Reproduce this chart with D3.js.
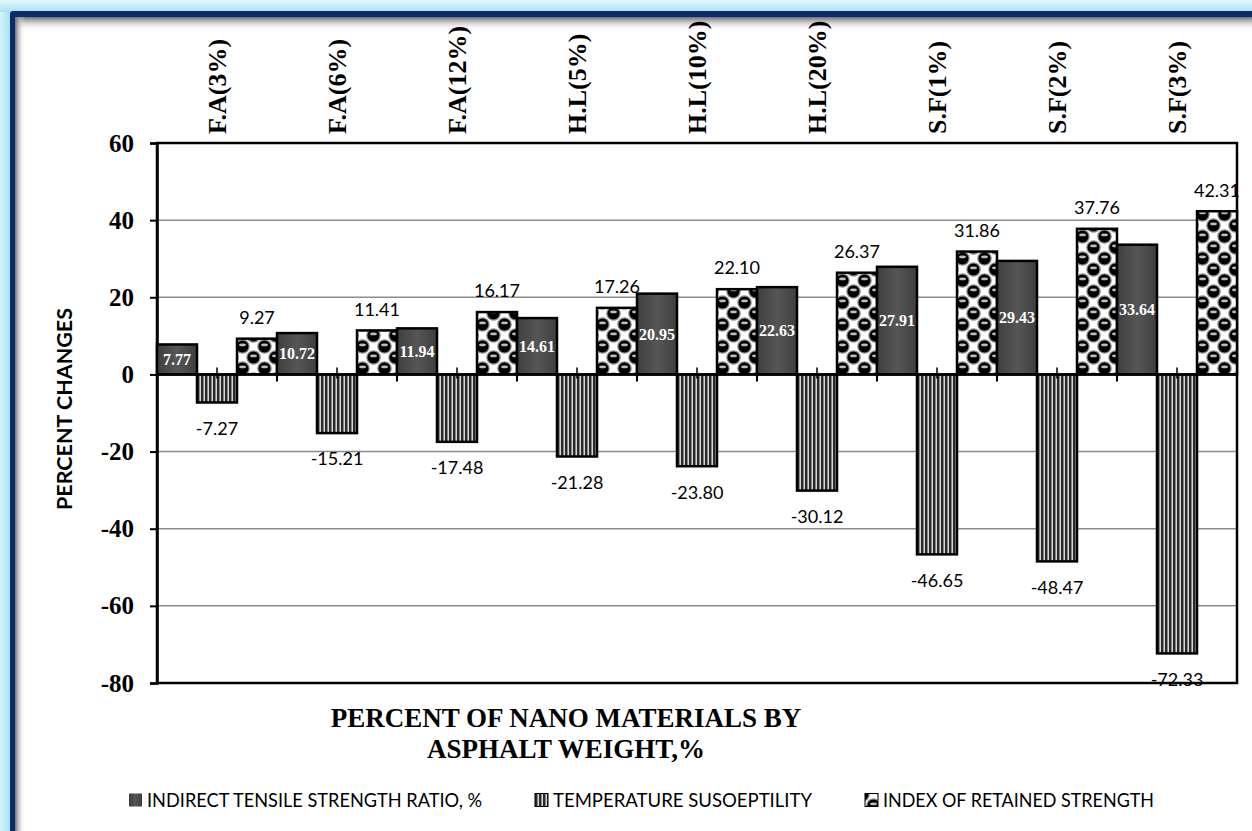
<!DOCTYPE html>
<html><head><meta charset="utf-8">
<script src="https://cdn.jsdelivr.net/npm/d3@7"></script>
<style>html,body{margin:0;padding:0;background:#fff;}svg{display:block;}</style>
</head><body>
<svg id="c" width="1252" height="831"></svg>
<script>
const categories = ["F.A(3%)","F.A(6%)","F.A(12%)","H.L(5%)","H.L(10%)","H.L(20%)","S.F(1%)","S.F(2%)","S.F(3%)"];
const seriesNames = ["INDIRECT TENSILE STRENGTH RATIO, %","TEMPERATURE SUSOEPTILITY","INDEX OF RETAINED STRENGTH"];
const itsr = [7.77,10.72,11.94,14.61,20.95,22.63,27.91,29.43,33.64];
const tempSus = [-7.27,-15.21,-17.48,-21.28,-23.80,-30.12,-46.65,-48.47,-72.33];
const irs = [9.27,11.41,16.17,17.26,22.10,26.37,31.86,37.76,42.31];
const yTicks = [-80,-60,-40,-20,0,20,40,60];
const yTitle = "PERCENT CHANGES";
const xTitle = ["PERCENT OF NANO MATERIALS BY","ASPHALT WEIGHT,%"];

const svg = d3.select("#c");
const W = 1252, H = 831;
const defs = svg.append("defs");

// frame gradients
const gTop = defs.append("linearGradient").attr("id","glowTop").attr("x1",0).attr("y1",0).attr("x2",0).attr("y2",1);
gTop.append("stop").attr("offset","0%").attr("stop-color","#e4f7fd");
gTop.append("stop").attr("offset","100%").attr("stop-color","#a6e2f4");
const gLeft = defs.append("linearGradient").attr("id","glowLeft").attr("x1",0).attr("y1",0).attr("x2",1).attr("y2",0);
gLeft.append("stop").attr("offset","0%").attr("stop-color","#d8f3fb");
gLeft.append("stop").attr("offset","100%").attr("stop-color","#a6e2f4");
const shTop = defs.append("linearGradient").attr("id","shTop").attr("x1",0).attr("y1",0).attr("x2",0).attr("y2",1);
shTop.append("stop").attr("offset","0%").attr("stop-color","#6f6f6f");
shTop.append("stop").attr("offset","100%").attr("stop-color","#ffffff").attr("stop-opacity",0);
const shLeft = defs.append("linearGradient").attr("id","shLeft").attr("x1",0).attr("y1",0).attr("x2",1).attr("y2",0);
shLeft.append("stop").attr("offset","0%").attr("stop-color","#6f6f6f");
shLeft.append("stop").attr("offset","100%").attr("stop-color","#ffffff").attr("stop-opacity",0);

svg.append("rect").attr("x",0).attr("y",0).attr("width",W).attr("height",H).attr("fill","#a6e2f4");
svg.append("rect").attr("x",0).attr("y",0).attr("width",W).attr("height",12).attr("fill","url(#glowTop)");
svg.append("rect").attr("x",0).attr("y",12).attr("width",10).attr("height",H).attr("fill","url(#glowLeft)");
svg.append("rect").attr("x",10).attr("y",11).attr("width",W).attr("height",H).attr("rx",3).attr("fill","#0b2a66");
svg.append("rect").attr("x",15).attr("y",17).attr("width",W).attr("height",H).attr("fill","#ffffff");
svg.append("rect").attr("x",15).attr("y",17).attr("width",W).attr("height",14).attr("fill","url(#shTop)");
svg.append("rect").attr("x",15).attr("y",17).attr("width",10).attr("height",H).attr("fill","url(#shLeft)");

// patterns
const solidGrad = defs.append("linearGradient").attr("id","solidG").attr("x1",0).attr("y1",0).attr("x2",1).attr("y2",0);
solidGrad.append("stop").attr("offset","0%").attr("stop-color","#3e3e3e");
solidGrad.append("stop").attr("offset","50%").attr("stop-color","#565656");
solidGrad.append("stop").attr("offset","100%").attr("stop-color","#3e3e3e");

const stripe = defs.append("pattern").attr("id","stripe").attr("patternUnits","userSpaceOnUse").attr("width",4).attr("height",10);
stripe.append("rect").attr("width",4).attr("height",10).attr("fill","#d8d8d8");
stripe.append("rect").attr("x",0).attr("width",2).attr("height",10).attr("fill","#2a2a2a");
stripe.append("rect").attr("x",2).attr("width",1).attr("height",10).attr("fill","#888");

const P = 22, cs = 11;
const ball = defs.append("pattern").attr("id","balls").attr("patternUnits","userSpaceOnUse").attr("width",P).attr("height",P).attr("x",3).attr("y",0);
ball.append("rect").attr("width",P).attr("height",P).attr("fill","#ffffff");
// dark balls on the diagonal cells, with wrap-around copies so rings cross cell edges
const centers = [];
[[cs/2,cs/2],[cs*1.5,cs*1.5]].forEach(([cx,cy])=>{
  [-P,0,P].forEach(dx=>[-P,0,P].forEach(dy=>centers.push([cx+dx,cy+dy])));
});
centers.forEach(([cx,cy])=>{
  ball.append("circle").attr("cx",cx).attr("cy",cy).attr("r",6.6).attr("fill","#000").attr("stroke","#8a8a8a").attr("stroke-width",1.3);
});
centers.forEach(([cx,cy])=>{
  ball.append("ellipse").attr("cx",cx).attr("cy",cy-1.6).attr("rx",3.4).attr("ry",1.3).attr("fill","#bdbdbd");
});

const fills = ["url(#solidG)","url(#stripe)","url(#balls)"];

// scales
const plot = {l:157, r:1237, t:143, b:683};
const y = d3.scaleLinear().domain([-80,60]).range([plot.b, plot.t]);
const x0 = d3.scaleBand().domain(categories).range([plot.l, plot.r]).padding(0);
const x1 = d3.scaleBand().domain(seriesNames).range([0, x0.bandwidth()]).padding(0);

// gridlines
svg.append("g").selectAll("line").data(yTicks.filter(t=>t!==0 && t!==60 && t!==-80)).join("line")
  .attr("x1",plot.l).attr("x2",plot.r).attr("y1",d=>y(d)).attr("y2",d=>y(d))
  .attr("stroke","#8c8c8c").attr("stroke-width",1.5);

// plot border
svg.append("rect").attr("x",plot.l).attr("y",plot.t).attr("width",plot.r-plot.l).attr("height",plot.b-plot.t)
  .attr("fill","none").attr("stroke","#000").attr("stroke-width",2.5);

// y axis
const yAxis = d3.axisLeft(y).tickValues(yTicks).tickSize(7).tickPadding(16).tickFormat(d=>String(d));
const ga = svg.append("g").attr("transform",`translate(${plot.l},0)`).call(yAxis);
ga.select(".domain").attr("stroke","#000").attr("stroke-width",2.5);
ga.selectAll(".tick line").attr("stroke","#000").attr("stroke-width",2);
ga.selectAll(".tick text").attr("font-family","'Liberation Serif', serif").attr("font-weight","bold")
  .attr("font-size",25).attr("fill","#000");

// bars
const data = categories.map((c,i)=>({c, vals:[itsr[i], tempSus[i], irs[i]]}));
const groups = svg.append("g").selectAll("g").data(data).join("g")
  .attr("transform",d=>`translate(${x0(d.c)},0)`);
groups.selectAll("rect").data(d=>d.vals.map((v,k)=>({v,k}))).join("rect")
  .attr("x",d=>x1(seriesNames[d.k]))
  .attr("width",x1.bandwidth())
  .attr("y",d=>Math.min(y(d.v),y(0)))
  .attr("height",d=>Math.abs(y(d.v)-y(0)))
  .attr("fill",d=>fills[d.k])
  .attr("stroke","#000").attr("stroke-width",2.5);

// zero line
svg.append("line").attr("x1",plot.l).attr("x2",plot.r).attr("y1",y(0)).attr("y2",y(0)).attr("stroke","#000").attr("stroke-width",2.5);

// category ticks
const bounds = categories.map(c=>x0(c));
svg.append("g").selectAll("line").data(bounds.slice(1)).join("line")
  .attr("x1",d=>d).attr("x2",d=>d).attr("y1",y(0)).attr("y2",y(0)+7).attr("stroke","#000").attr("stroke-width",2);
svg.append("g").selectAll("line").data(categories).join("line")
  .attr("x1",d=>x0(d)+x0.bandwidth()/2).attr("x2",d=>x0(d)+x0.bandwidth()/2)
  .attr("y1",y(0)-7).attr("y2",y(0)+4).attr("stroke","#000").attr("stroke-width",1.5);

// labels
const sans = "Lato, 'Open Sans', sans-serif";
groups.append("text")
  .attr("x",d=>x1(seriesNames[0])+x1.bandwidth()/2)
  .attr("y",d=>(y(d.vals[0])+y(0))/2)
  .attr("dy","0.35em").attr("text-anchor","middle")
  .attr("font-family","'Liberation Serif', serif").attr("font-weight","bold").attr("font-size",16)
  .attr("fill","#fff").text(d=>d.vals[0].toFixed(2));
groups.append("text")
  .attr("x",d=>x1(seriesNames[1])+x1.bandwidth()/2)
  .attr("y",d=>y(d.vals[1])+26)
  .attr("dy","0.35em").attr("text-anchor","middle")
  .attr("font-family",sans).attr("font-size",18).attr("fill","#000")
  .text(d=>d.vals[1].toFixed(2));
groups.append("text")
  .attr("x",d=>x1(seriesNames[2])+x1.bandwidth()/2)
  .attr("y",d=>y(d.vals[2])-21)
  .attr("dy","0.35em").attr("text-anchor","middle")
  .attr("font-family",sans).attr("font-size",18).attr("fill","#000")
  .text(d=>d.vals[2].toFixed(2));

// top category labels
svg.append("g").selectAll("text").data(categories).join("text")
  .attr("transform",d=>`translate(${x0(d)+x0.bandwidth()/2},134) rotate(-90)`)
  .attr("dy","0.35em").attr("text-anchor","start")
  .attr("font-family","'Liberation Serif', serif").attr("font-weight","bold").attr("font-size",26)
  .attr("fill","#000").text(d=>d);

// y title
svg.append("text").attr("transform","translate(65,409) rotate(-90)")
  .attr("dy","0.35em").attr("text-anchor","middle")
  .attr("font-family",sans).attr("font-weight","bold").attr("font-size",20)
  .attr("textLength",202).attr("lengthAdjust","spacingAndGlyphs")
  .attr("fill","#000").text(yTitle);

// x title
svg.append("g").selectAll("text").data(xTitle).join("text")
  .attr("x",566).attr("y",(d,i)=>718+i*31).attr("dy","0.35em").attr("text-anchor","middle")
  .attr("font-family","'Liberation Serif', serif").attr("font-weight","bold").attr("font-size",27)
  .attr("fill","#000").text(d=>d);

// legend
const legX = [129, 535, 865];
const legW = [335, 259, 271];
const leg = svg.append("g").selectAll("g").data(seriesNames).join("g")
  .attr("transform",(d,i)=>`translate(${legX[i]},800)`);
leg.append("rect").attr("x",0).attr("y",-6.5).attr("width",13).attr("height",13)
  .attr("fill",(d,i)=>fills[i]).attr("stroke",(d,i)=>i===0?"none":"#000").attr("stroke-width",1);
leg.append("text").attr("x",18).attr("dy","0.36em")
  .attr("font-family",sans).attr("font-size",19).attr("fill","#000")
  .attr("textLength",(d,i)=>legW[i]).attr("lengthAdjust","spacingAndGlyphs").text(d=>d);
</script>
</body></html>
